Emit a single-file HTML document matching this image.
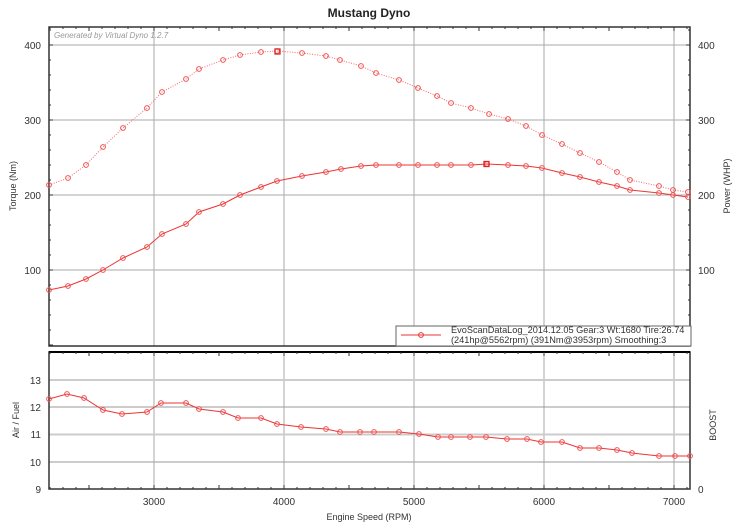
<!DOCTYPE html>
<html><head><meta charset="utf-8"><style>
body{margin:0;background:#fff;}
svg{display:block;font-family:"Liberation Sans",sans-serif;}
</style></head><body>
<svg id="s" width="738" height="528" viewBox="0 0 738 528" xmlns="http://www.w3.org/2000/svg">
<rect x="0" y="0" width="738" height="528" fill="#fff"/>
<text x="369" y="17" font-size="12" font-weight="bold" text-anchor="middle" fill="#222">Mustang Dyno</text>
<g id="grid" stroke="#aaa" stroke-width="1"></g>
<rect x="49" y="27" width="641" height="319" fill="none" stroke="#333" stroke-width="1.5"/>
<rect x="49" y="352" width="641" height="137" fill="none" stroke="#333" stroke-width="1.5"/>
<line x1="49" y1="352" x2="690" y2="352" stroke="#000" stroke-width="2"/>
<text x="54" y="38" font-size="8" font-style="italic" fill="#999">Generated by Virtual Dyno 1.2.7</text>
<g id="ticks" stroke="#333" stroke-width="1"></g>
<g font-size="10" fill="#333" text-anchor="end">
<text x="41" y="49">400</text><text x="41" y="124">300</text><text x="41" y="199">200</text><text x="41" y="274">100</text>
<text x="41" y="384">13</text><text x="41" y="411">12</text><text x="41" y="438">11</text><text x="41" y="466">10</text><text x="41" y="493">9</text>
</g>
<g font-size="10" fill="#333">
<text x="698" y="49">400</text><text x="698" y="124">300</text><text x="698" y="199">200</text><text x="698" y="274">100</text>
<text x="698" y="493">0</text>
</g>
<g font-size="10" fill="#333" text-anchor="middle">
<text x="154" y="505">3000</text><text x="284" y="505">4000</text><text x="414" y="505">5000</text><text x="544" y="505">6000</text><text x="674" y="505">7000</text>
<text x="369" y="520" font-size="9">Engine Speed (RPM)</text>
</g>
<text transform="translate(16,186) rotate(-90)" font-size="9" fill="#333" text-anchor="middle">Torque (Nm)</text>
<text transform="translate(19,420) rotate(-90)" font-size="9" fill="#333" text-anchor="middle">Air / Fuel</text>
<text transform="translate(730,186) rotate(-90)" font-size="9" fill="#333" text-anchor="middle">Power (WHP)</text>
<text transform="translate(716,425) rotate(-90)" font-size="9" fill="#333" text-anchor="middle">BOOST</text>
<g id="data"></g>
<rect x="396" y="326" width="295" height="20" fill="#fff" stroke="#666" stroke-width="1"/>
<line x1="401" y1="335" x2="441" y2="335" stroke="#e33" stroke-width="1"/>
<circle cx="421" cy="335" r="2.4" fill="none" stroke="#e33" stroke-width="1"/>
<text x="451" y="333" font-size="9.2" fill="#333">EvoScanDataLog_2014.12.05 Gear:3 Wt:1680 Tire:26.74</text>
<text x="451" y="343" font-size="9.2" fill="#333">(241hp@5562rpm) (391Nm@3953rpm) Smoothing:3</text>
</svg>
<script>
var NS="http://www.w3.org/2000/svg",s=document.getElementById('s');
function el(p,t,a){var e=document.createElementNS(NS,t);for(var k in a)e.setAttribute(k,a[k]);document.getElementById(p).appendChild(e);return e;}
[154,284,414,544,674].forEach(function(x){el('grid','line',{x1:x,y1:27,x2:x,y2:346});el('grid','line',{x1:x,y1:352,x2:x,y2:489});});
[45,120,195,270].forEach(function(y){el('grid','line',{x1:49,y1:y,x2:690,y2:y});});
[380,407,434.5,462].forEach(function(y,i){el('grid','line',{x1:49,y1:y,x2:690,y2:y,stroke:(i%2==0?'#ccc':'#999'),'stroke-width':(i%2==0?2:1)});});
for(var r=2200;r<=7100;r+=100){var x=154+(r-3000)*0.13;var L=(r%500==0)?4:2;
el('ticks','line',{x1:x,y1:27,x2:x,y2:27+L});el('ticks','line',{x1:x,y1:352,x2:x,y2:352+L});el('ticks','line',{x1:x,y1:489,x2:x,y2:489-L});}
for(var v=0;v<=420;v+=20){var y=345-v*0.75;if(y<27)continue;var L=(v%100==0)?4:2;
el('ticks','line',{x1:49,y1:y,x2:49+L,y2:y});el('ticks','line',{x1:690,y1:y,x2:690-L,y2:y});}
var tq=[[49,185],[68,178],[86,165],[103,147],[123,128],[147,108],[162,92],[186,79],[199,69],[223,60],[240,55],[261,52],[277,51],[302,53],[326,56],[340,60],[361,66],[376,73],[399,80],[418,88],[437,96],[451,103],[471,108],[489,114],[508,119],[526,126],[542,135],[562,144],[580,153],[599,162],[617,172],[630,180],[659,186],[673,190],[688,192]];
var pw=[[49,290],[68,286],[86,279],[103,270],[123,258],[147,247],[162,234],[186,224],[199,212],[223,204],[240,195],[261,187],[277,181],[302,176],[326,172],[341,169],[361,166],[376,165],[399,165],[418,165],[437,165],[451,165],[471,165],[487,164],[508,165],[526,166],[542,168],[562,173],[580,177],[599,182],[617,186],[630,190],[659,193],[673,195],[688,197]];
var af=[[49,399],[67,394],[84,398],[103,410],[122,414],[147,412],[161,403],[186,403],[199,409],[223,412],[238,418],[261,418],[277,424],[301,427],[326,429],[340,432],[360,432],[374,432],[399,432],[419,434],[438,437],[451,437],[470,437],[486,437],[507,439],[527,439],[541,442],[562,442],[580,448],[599,448],[617,450],[632,453],[659,456],[675,456],[690,456]];
function pts(a){return a.map(function(p){return p.join(',')}).join(' ');}
el('data','polyline',{points:pts(tq),fill:'none',stroke:'#f66','stroke-width':1,'stroke-dasharray':'1,1.5'});
el('data','polyline',{points:pts(pw),fill:'none',stroke:'#e33','stroke-width':1});
el('data','polyline',{points:pts(af),fill:'none',stroke:'#e33','stroke-width':1});
[tq,pw,af].forEach(function(a){a.forEach(function(p){el('data','circle',{cx:p[0],cy:p[1],r:2.4,fill:'none',stroke:'#e55','stroke-width':1});});});
el('data','rect',{x:275,y:49,width:5,height:5,fill:'none',stroke:'#d22','stroke-width':1.3});
el('data','rect',{x:484,y:161.5,width:5,height:5,fill:'none',stroke:'#d22','stroke-width':1.3});
</script>
</body></html>
